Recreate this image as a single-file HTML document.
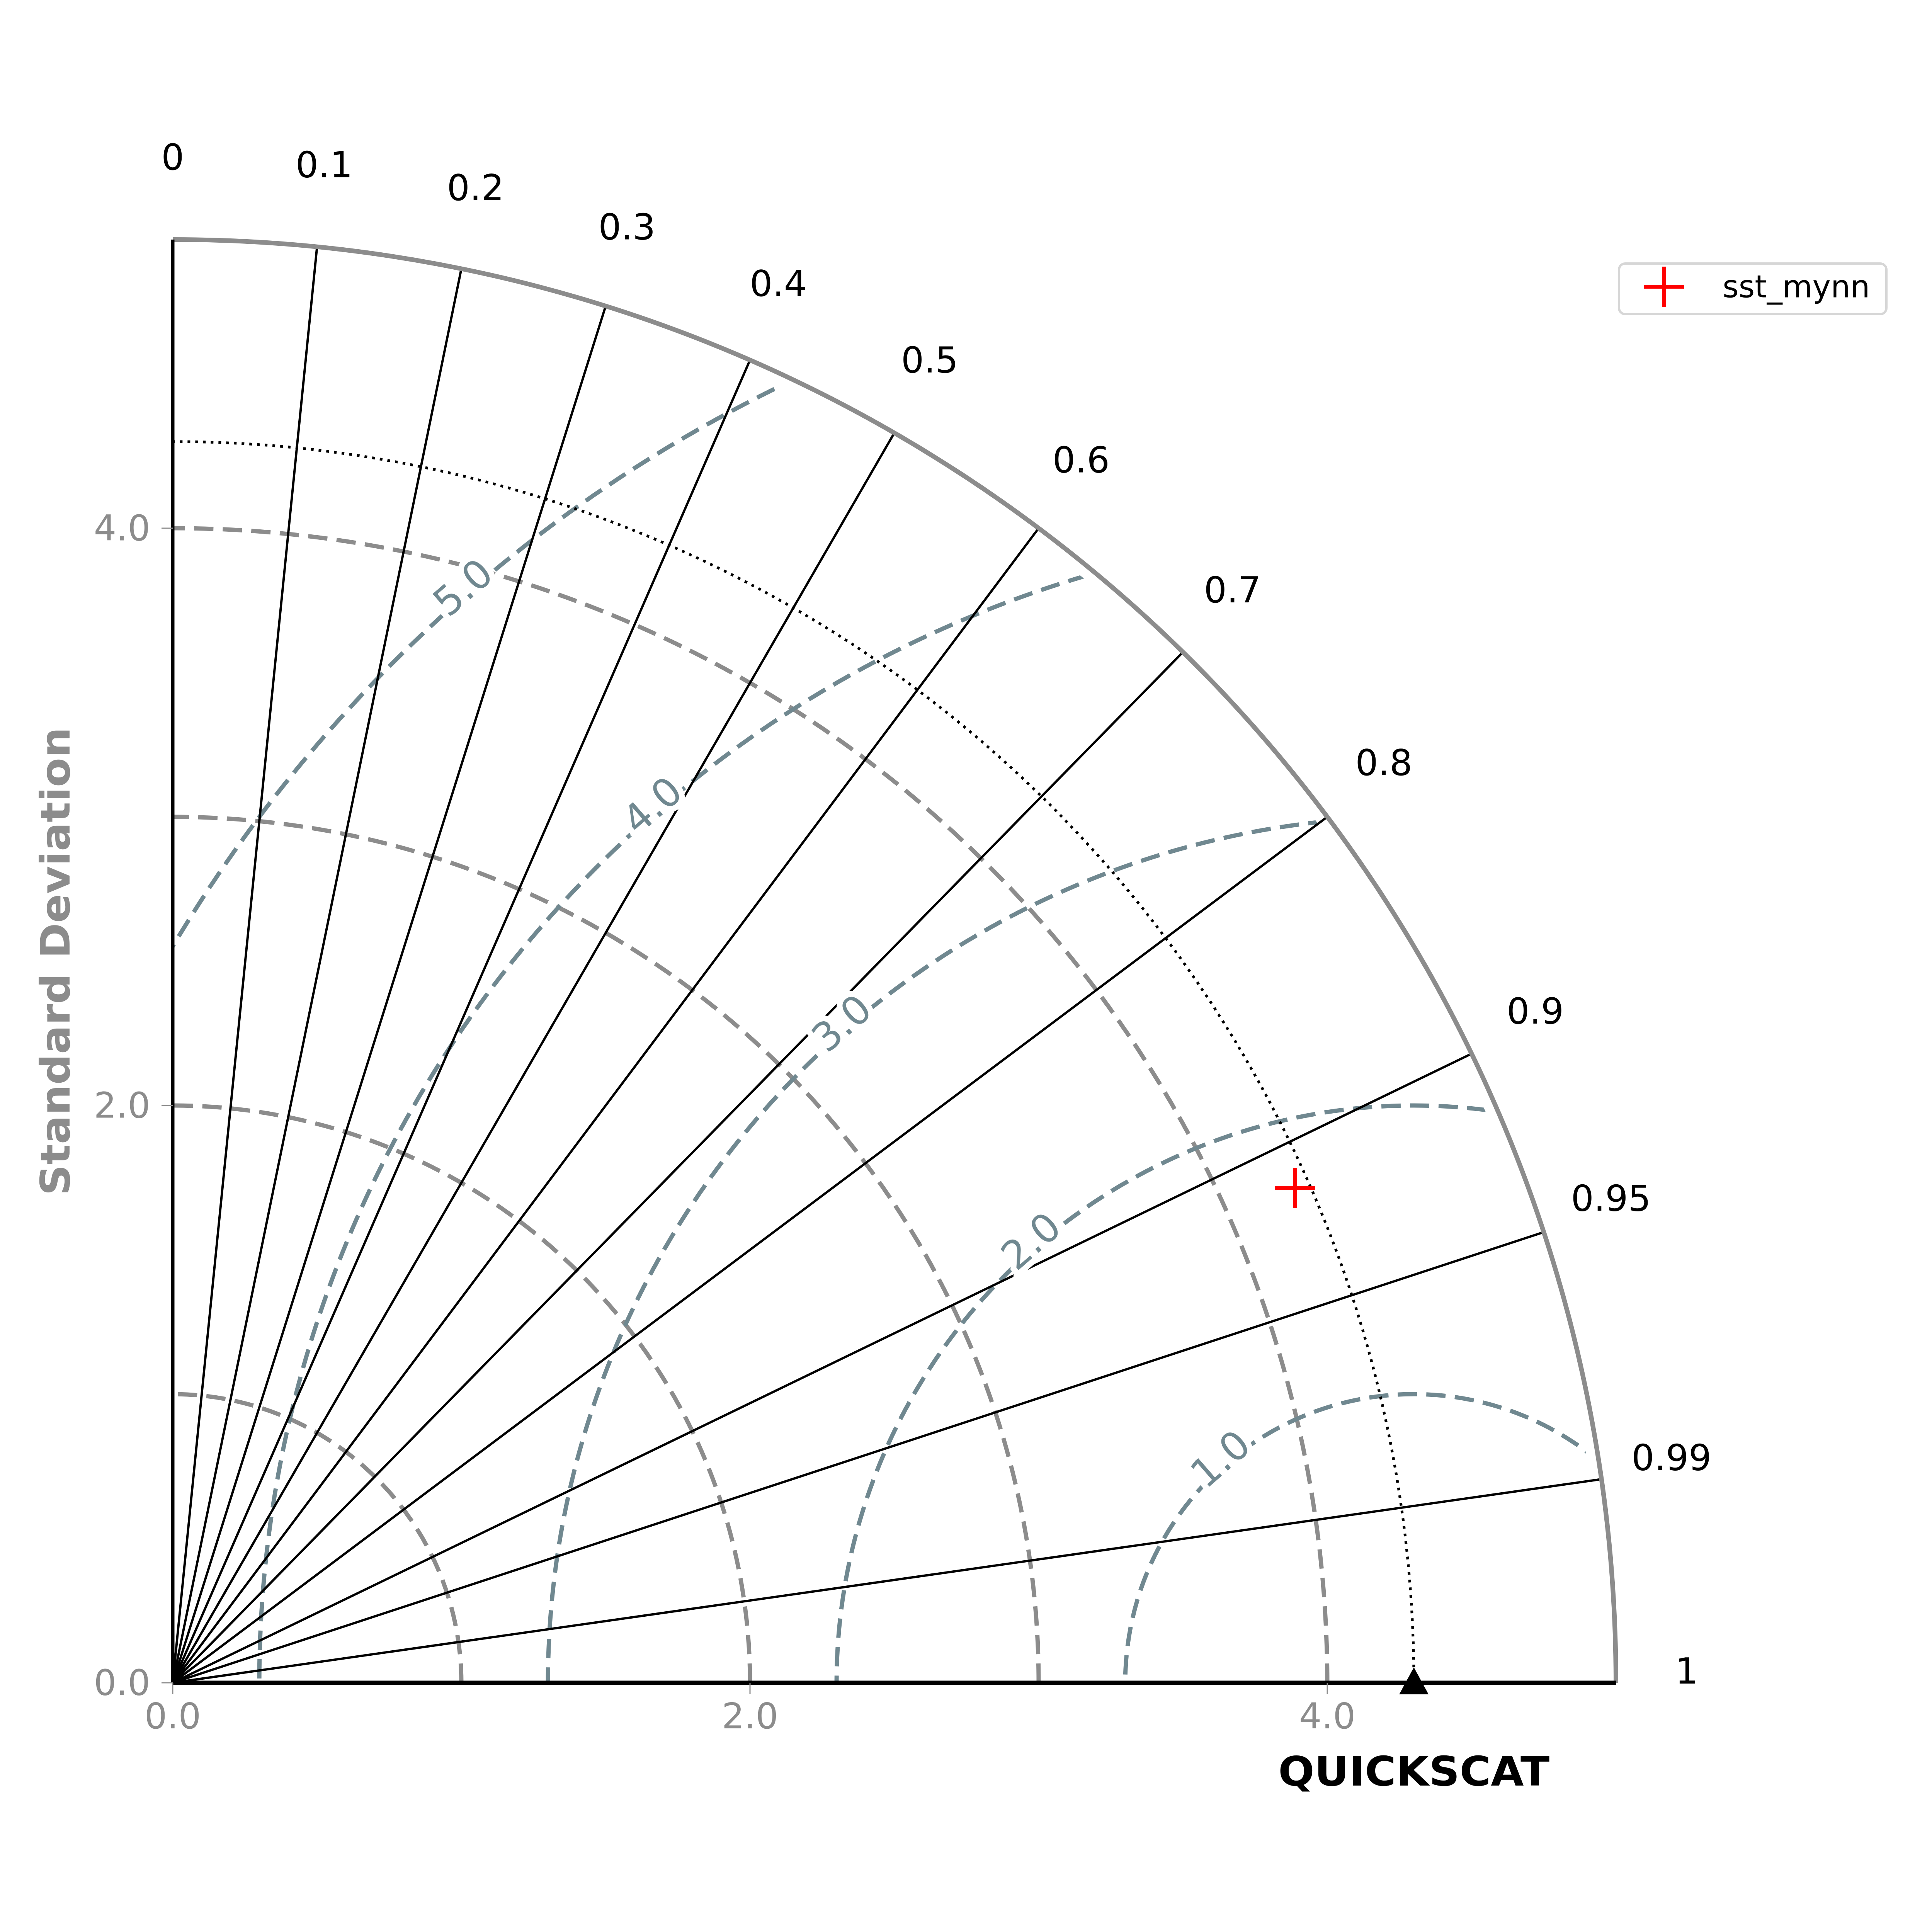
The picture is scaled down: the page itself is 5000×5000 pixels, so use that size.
<!DOCTYPE html>
<html>
<head>
<meta charset="utf-8">
<style>
html,body{margin:0;padding:0;background:#fff;width:5000px;height:5000px;overflow:hidden;}
svg{display:block;}
text{font-family:"DejaVu Sans","Liberation Sans",sans-serif;}
</style>
</head>
<body>
<svg id="chart" width="5000" height="5000" viewBox="0 0 5000 5000" xmlns="http://www.w3.org/2000/svg">
<defs>
<clipPath id="quarter"><path id="qpath" d=""/></clipPath>
</defs>
<g id="layer"></g>
</svg>
<script>
// ---- data ----
const corrTicks = [0, 0.1, 0.2, 0.3, 0.4, 0.5, 0.6, 0.7, 0.8, 0.9, 0.95, 0.99, 1];
const corrLabels = ["0", "0.1", "0.2", "0.3", "0.4", "0.5", "0.6", "0.7", "0.8", "0.9", "0.95", "0.99", "1"];
const stdArcs = [1, 2, 3, 4];
const stdTicks = [0, 2, 4];
const stdTickLabels = ["0.0", "2.0", "4.0"];
const rmsLevels = [1, 2, 3, 4, 5];
const rmsLabels = ["1.0", "2.0", "3.0", "4.0", "5.0"];
const refStd = [4.30];
const refName = ["QUICKSCAT"];
const modelNames = ["sst_mynn"];
const modelStd = [4.25];
const modelCorr = [0.915];
const maxStd = [5.0];

// ---- axis functions ----
const OX = 447, OY = 4355, SCALE = 747;
const px = v => OX + v * SCALE;
const py = v => OY - v * SCALE;
const polarX = (r, th) => px(r * Math.cos(th));
const polarY = (r, th) => py(r * Math.sin(th));

const NS = "http://www.w3.org/2000/svg";
const layer = document.getElementById("layer");
function mk(tag, attrs, parent) {
  const e = document.createElementNS(NS, tag);
  for (const k in attrs) e.setAttribute(k, attrs[k]);
  (parent || layer).appendChild(e);
  return e;
}
function arcPath(r, a0, a1) {
  return "M" + polarX(r, a0) + "," + polarY(r, a0) + " A" + (r * SCALE) + "," + (r * SCALE) + " 0 0 0 " + polarX(r, a1) + "," + polarY(r, a1);
}
const R = maxStd[0];
const rc = 4.96;
document.getElementById("qpath").setAttribute("d",
  "M" + px(0) + "," + py(0) + " L" + px(rc) + "," + py(0) + " A" + rc * SCALE + "," + rc * SCALE + " 0 0 0 " + px(0) + "," + py(rc) + " Z");

// std dashed arcs
stdArcs.forEach((s, i) => {
  const p = mk("path", {d: arcPath(s, 0, Math.PI / 2), fill: "none", stroke: "#8c8c8c", "stroke-width": 11, "stroke-dasharray": "50,24"});
  
  
});

// rms contours
const rmsG = mk("g", {"clip-path": "url(#quarter)"});


rmsLevels.forEach((l) => {
  const c = mk("circle", {cx: px(refStd[0]), cy: py(0), r: l * SCALE, fill: "none", stroke: "#708890", "stroke-width": 11, "stroke-dasharray": "50,24"}, rmsG);
  
  
});

// correlation lines
corrTicks.forEach((c, i) => {
  const th = Math.acos(c);
  const ln = mk("line", {x1: px(0), y1: py(0), x2: polarX(R, th), y2: polarY(R, th), stroke: "#000", "stroke-width": 6});
  
  
  const t = mk("text", {x: polarX(5.245, th), y: polarY(5.245, th) - 30, "font-size": 93, fill: "#000", "text-anchor": "middle", "dominant-baseline": "central"});
  t.textContent = corrLabels[i];
  
  
});

// rms labels
rmsLevels.forEach((l, i) => {
  const ang = 131 * Math.PI / 180;
  const x = px(refStd[0] + l * Math.cos(ang)) - 10, y = py(l * Math.sin(ang)) - 15;
  const t = mk("text", {x: x, y: y, "font-size": 102, fill: "#708890", "text-anchor": "middle", "dominant-baseline": "central",
    transform: "rotate(-41 " + x + " " + y + ")", stroke: "#fff", "stroke-width": 30, "paint-order": "stroke"});
  t.textContent = rmsLabels[i];
  
  
});

// reference dotted arc
const ra = mk("path", {d: arcPath(refStd[0], 0, Math.PI / 2), fill: "none", stroke: "#000", "stroke-width": 7, "stroke-dasharray": "7,13"});



// outer arc
const oa = mk("path", {d: arcPath(R, 0, Math.PI / 2), fill: "none", stroke: "#8c8c8c", "stroke-width": 12});



// axes
const xa = mk("line", {x1: px(0), y1: py(0), x2: px(R), y2: py(0), stroke: "#000", "stroke-width": 11});


const ya = mk("line", {x1: px(0), y1: py(0), x2: px(0), y2: py(R), stroke: "#000", "stroke-width": 9});



// ticks
stdTicks.forEach((s, i) => {
  const tx = mk("line", {x1: px(s), y1: py(0), x2: px(s), y2: py(0) + 29, stroke: "#8c8c8c", "stroke-width": 3});
  
  
  const lx = mk("text", {x: px(s), y: py(0) + 118, "font-size": 92, fill: "#8c8c8c", "text-anchor": "middle"});
  lx.textContent = stdTickLabels[i];
  
  
  const ty = mk("line", {x1: px(0), y1: py(s), x2: px(0) - 29, y2: py(s), stroke: "#8c8c8c", "stroke-width": 3});
  
  
  const ly = mk("text", {x: px(0) - 58, y: py(s), "font-size": 92, fill: "#8c8c8c", "text-anchor": "end", "dominant-baseline": "central"});
  ly.textContent = stdTickLabels[i];
  
  
});

// axis titles
const yt = mk("text", {x: 144, y: 2488, "font-size": 105, "font-weight": "bold", fill: "#8c8c8c", "text-anchor": "middle", "dominant-baseline": "central", transform: "rotate(-90 144 2488)", textLength: 1212, lengthAdjust: "spacingAndGlyphs"});
yt.textContent = "Standard Deviation";


const xt = mk("text", {x: px(refStd[0]), y: 4585, "font-size": 105, "font-weight": "bold", fill: "#000", "text-anchor": "middle", "dominant-baseline": "central", textLength: 702, lengthAdjust: "spacingAndGlyphs"});
xt.textContent = refName[0];



// reference marker
const rx = px(refStd[0]), ry = py(0);
const tri = mk("polygon", {points: (rx - 38) + "," + (ry + 30) + " " + (rx + 38) + "," + (ry + 30) + " " + rx + "," + (ry - 40), fill: "#000"});



// model points
modelStd.forEach((s, i) => {
  const th = Math.acos(modelCorr[i]);
  const x = polarX(s, th), y = polarY(s, th);
  const g = mk("g", {});
  
  
  mk("line", {x1: x - 52, y1: y, x2: x + 52, y2: y, stroke: "#ff0000", "stroke-width": 10}, g);
  mk("line", {x1: x, y1: y - 52, x2: x, y2: y + 52, stroke: "#ff0000", "stroke-width": 10}, g);
});

// legend
const lg = mk("g", {}, document.getElementById("chart"));


const box = mk("rect", {x: 4190, y: 682, width: 692, height: 131, rx: 16, fill: "#fff", stroke: "#d6d6d6", "stroke-width": 6}, lg);


modelNames.forEach((n, i) => {
  const cy = 742 + i * 120;
  const e = mk("g", {}, lg);
  
  
  mk("line", {x1: 4254, y1: cy, x2: 4358, y2: cy, stroke: "#ff0000", "stroke-width": 10}, e);
  mk("line", {x1: 4306, y1: cy - 52, x2: 4306, y2: cy + 52, stroke: "#ff0000", "stroke-width": 10}, e);
  const t = mk("text", {x: 4458, y: cy, "font-size": 80, fill: "#000", "dominant-baseline": "central"}, e);
  t.textContent = n;
});
</script>
</body>
</html>
